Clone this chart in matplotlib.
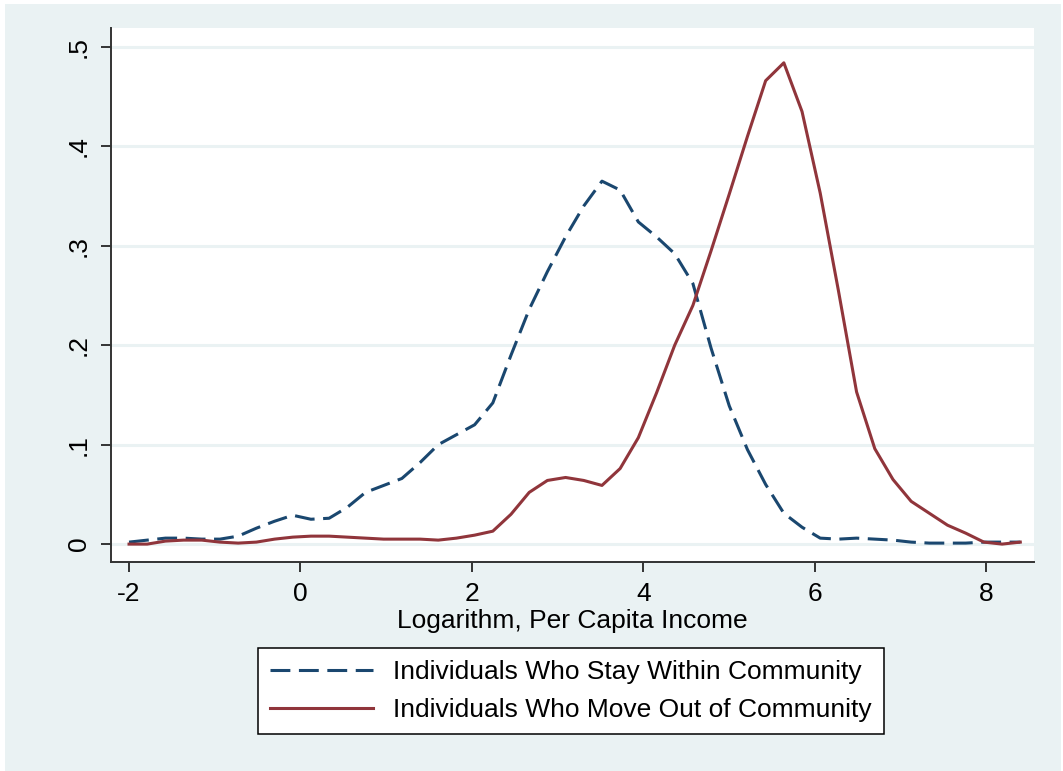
import numpy as np
import matplotlib
matplotlib.use('Agg')
import matplotlib.pyplot as plt
from matplotlib.patches import Rectangle

plt.rcParams['font.family'] = ['Liberation Sans', 'DejaVu Sans']

# evaluation grid of the kernel density (50 points)
income_grid = np.linspace(-2.0, 8.4, 50)

# density: individuals who stay within community
stay_density = [0.002, 0.004, 0.006, 0.006, 0.005, 0.005, 0.008, 0.016, 0.023, 0.029,
                0.025, 0.026, 0.037, 0.052, 0.059, 0.066, 0.082, 0.100, 0.110, 0.120,
                0.142, 0.190, 0.236, 0.274, 0.309, 0.340, 0.365, 0.356, 0.324, 0.309,
                0.292, 0.262, 0.197, 0.139, 0.095, 0.060, 0.031, 0.017, 0.006, 0.005,
                0.006, 0.005, 0.004, 0.002, 0.001, 0.001, 0.001, 0.002, 0.002, 0.002]

# density: individuals who move out of community
move_density = [0.000, 0.000, 0.003, 0.004, 0.004, 0.002, 0.001, 0.002, 0.005, 0.007,
                0.008, 0.008, 0.007, 0.006, 0.005, 0.005, 0.005, 0.004, 0.006, 0.009,
                0.013, 0.030, 0.052, 0.064, 0.067, 0.064, 0.059, 0.076, 0.107, 0.152,
                0.200, 0.240, 0.295, 0.352, 0.410, 0.466, 0.484, 0.435, 0.353, 0.255,
                0.153, 0.096, 0.065, 0.043, 0.031, 0.019, 0.011, 0.002, 0.000, 0.002]

x_ticks = [-2, 0, 2, 4, 6, 8]
y_ticks = [0, 0.1, 0.2, 0.3, 0.4, 0.5]
y_tick_labels = ['0', '.1', '.2', '.3', '.4', '.5']

bg = '#EAF2F3'
navy = '#1A476F'
maroon = '#90353B'

W, H = 1063, 771
fig = plt.figure(figsize=(W / 100, H / 100), dpi=100)
fig.patch.set_facecolor('white')
fig.patches.append(Rectangle((5 / W, 0), (1061 - 5) / W, 767 / H,
                             transform=fig.transFigure, facecolor=bg,
                             edgecolor='none', zorder=-10))

ax = fig.add_axes([110.7 / W, 1 - 562 / H, (1034 - 110.7) / W, (562 - 28) / H])
ax.set_facecolor('white')

for y in y_ticks:
    ax.axhline(y, color=bg, lw=2.2, zorder=1)

ax.plot(income_grid, stay_density, color=navy, lw=2.2, dashes=(6.5, 2.8),
        label='Individuals Who Stay Within Community', zorder=3)
ax.plot(income_grid, move_density, color=maroon, lw=2.2,
        label='Individuals Who Move Out of Community', zorder=3)

ax.set_xlim(-2.214, 8.56)
ax.set_ylim(-0.018, 0.519)

for side in ['top', 'right']:
    ax.spines[side].set_visible(False)
for side in ['left', 'bottom']:
    ax.spines[side].set_color('#333333')
    ax.spines[side].set_linewidth(1.4)

ax.set_xticks(x_ticks)
ax.set_xticklabels([str(t) for t in x_ticks])
ax.set_yticks(y_ticks)
ax.set_yticklabels(y_tick_labels, rotation=90, va='center')
ax.tick_params(axis='both', direction='out', length=7.5, width=1.4,
               color='#333333', labelsize=19, pad=7)

ax.set_xlabel('Logarithm, Per Capita Income', fontsize=19, labelpad=2)

leg = fig.legend(loc='upper center', bbox_to_anchor=(571 / W, 1 - 648 / H),
                 fontsize=19, frameon=True, fancybox=False, framealpha=1,
                 edgecolor='black', handlelength=3.9, handletextpad=0.75,
                 labelspacing=0.55, borderpad=0.45, borderaxespad=0)
leg.get_frame().set_linewidth(1.1)

fig.savefig('out.png', dpi=100, facecolor=fig.get_facecolor())
